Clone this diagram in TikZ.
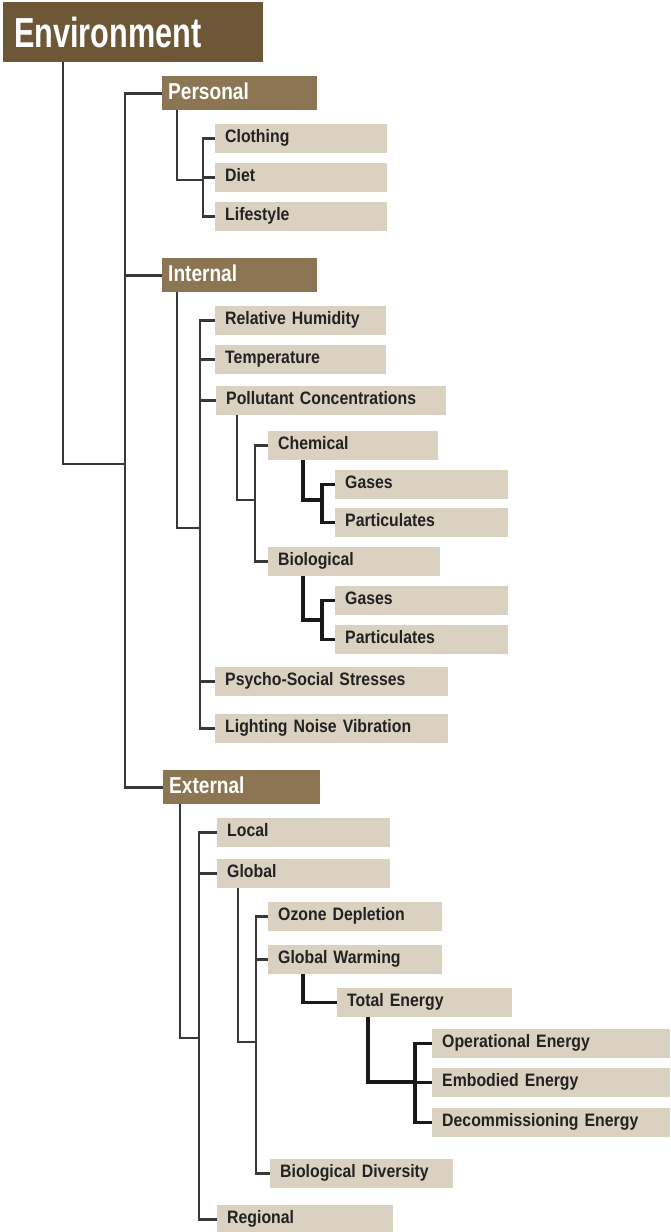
\documentclass[tikz,border=0pt]{standalone}
\usepackage{fontspec}
\usepackage{tikz}
\newfontfamily\leaffont[FakeStretch=0.88]{Liberation Sans}
\newfontfamily\headfont[FakeStretch=0.83]{Liberation Sans}
\newfontfamily\titlefont[FakeStretch=0.73]{Liberation Sans}
\definecolor{titlebrown}{HTML}{6D5736}
\definecolor{headbrown}{HTML}{8C7552}
\definecolor{leafbeige}{HTML}{DBD1C1}
\definecolor{linegray}{HTML}{383838}
\definecolor{leaftext}{HTML}{222222}

\tikzset{
  titlebox/.style={fill=titlebrown, text=white, anchor=north west, inner xsep=11pt,
    minimum height=60pt, text width=238pt, font=\titlefont\bfseries\fontsize{42}{44}\selectfont},
  headbox/.style={fill=headbrown, text=white, anchor=north west, inner xsep=6pt,
    minimum height=34pt, text height=16pt, text depth=4pt, text width=#1-12pt,
    font=\headfont\bfseries\fontsize{23}{25}\selectfont},
  leaf/.style={fill=leafbeige, text=leaftext, anchor=north west, inner xsep=10pt,
    minimum height=28.5pt, text height=13pt, text depth=4pt, text width=#1-20pt,
    font=\leaffont\bfseries\fontsize{18}{20}\selectfont},
  link/.style={draw=linegray, line width=2.8pt},
  darklink/.style={draw=black!90, line width=3.3pt}
}

\begin{document}
\begin{tikzpicture}[x=1pt,y=-1pt]
    \useasboundingbox (0,0) rectangle (670,1232);
    % boxes
    \node[titlebox] (env) at (3,2) {Environment};
    \node[headbox=155] (personal) at (162,76) {Personal};
    \node[leaf=172] (clothing) at (215,124) {Clothing};
    \node[leaf=172] (diet) at (215,163) {Diet};
    \node[leaf=172] (lifestyle) at (215,202) {Lifestyle};
    \node[headbox=155] (internal) at (162,258) {Internal};
    \node[leaf=171] (humidity) at (215,306) {Relative Humidity};
    \node[leaf=171] (temperature) at (215,345) {Temperature};
    \node[leaf=230] (pollutant) at (216,386) {Pollutant Concentrations};
    \node[leaf=170] (chemical) at (268,431) {Chemical};
    \node[leaf=173] (chemgases) at (335,470) {Gases};
    \node[leaf=173] (chempart) at (335,508) {Particulates};
    \node[leaf=172] (biological) at (268,547) {Biological};
    \node[leaf=173] (biogases) at (335,586) {Gases};
    \node[leaf=173] (biopart) at (335,625) {Particulates};
    \node[leaf=233] (psycho) at (215,667) {Psycho-Social Stresses};
    \node[leaf=233] (lighting) at (215,714) {Lighting Noise Vibration};
    \node[headbox=157] (external) at (163,770) {External};
    \node[leaf=173] (local) at (217,818) {Local};
    \node[leaf=173] (global) at (217,859) {Global};
    \node[leaf=174] (ozone) at (268,902) {Ozone Depletion};
    \node[leaf=174] (warming) at (268,945) {Global Warming};
    \node[leaf=175] (total) at (337,988) {Total Energy};
    \node[leaf=238] (operational) at (432,1029) {Operational Energy};
    \node[leaf=238] (embodied) at (432,1068) {Embodied Energy};
    \node[leaf=238] (decommission) at (432,1108) {Decommissioning Energy};
    \node[leaf=183] (diversity) at (270,1159) {Biological Diversity};
    \node[leaf=176] (regional) at (217,1205) {Regional};

    % elbows
    \coordinate (envj) at (125,464);
    \coordinate (perj) at (203,180);
    \coordinate (intj) at (200,528);
    \coordinate (polj) at (255,500);
    \coordinate (chemj) at (322,500);
    \coordinate (bioj) at (322,620);
    \coordinate (extj) at (199,1038);
    \coordinate (globj) at (256,1042);
    \coordinate (totj) at (415,1082);

    \draw[link] (env.south west) ++(60,0) |- (envj);
    \draw[link] (personal.west) -| (envj) |- (external.west);
    \draw[link] (envj |- internal.west) -- (internal.west);

    \draw[link] (personal.south west) ++(15,0) |- (perj);
    \draw[link] (clothing.west) -| (perj) |- (lifestyle.west);
    \draw[link] (perj |- diet.west) -- (diet.west);

    \draw[link] (internal.south west) ++(15,0) |- (intj);
    \draw[link] (humidity.west) -| (intj) |- (lighting.west);
    \draw[link] (intj |- temperature.west) -- (temperature.west);
    \draw[link] (intj |- pollutant.west) -- (pollutant.west);
    \draw[link] (intj |- psycho.west) -- (psycho.west);

    \draw[link] (pollutant.south west) ++(21,0) |- (polj);
    \draw[link] (chemical.west) -| (polj) |- (biological.west);

    \draw[darklink] (chemical.south west) ++(35,0) |- (chemj);
    \draw[darklink] (chemgases.west) -| (chemj) |- (chempart.west);
    \draw[darklink] (biological.south west) ++(35,0) |- (bioj);
    \draw[darklink] (biogases.west) -| (bioj) |- (biopart.west);

    \draw[link] (external.south west) ++(17,0) |- (extj);
    \draw[link] (local.west) -| (extj) |- (regional.west);
    \draw[link] (extj |- global.west) -- (global.west);

    \draw[link] (global.south west) ++(21,0) |- (globj);
    \draw[link] (ozone.west) -| (globj) |- (diversity.west);
    \draw[link] (globj |- warming.west) -- (warming.west);

    \draw[darklink] (warming.south west) ++(35,0) |- (total.west);
    \draw[darklink] (total.south west) ++(31,0) |- (totj);
    \draw[darklink] (operational.west) -| (totj) |- (decommission.west);
    \draw[darklink] (totj |- embodied.west) -- (embodied.west);
\end{tikzpicture}
\end{document}
